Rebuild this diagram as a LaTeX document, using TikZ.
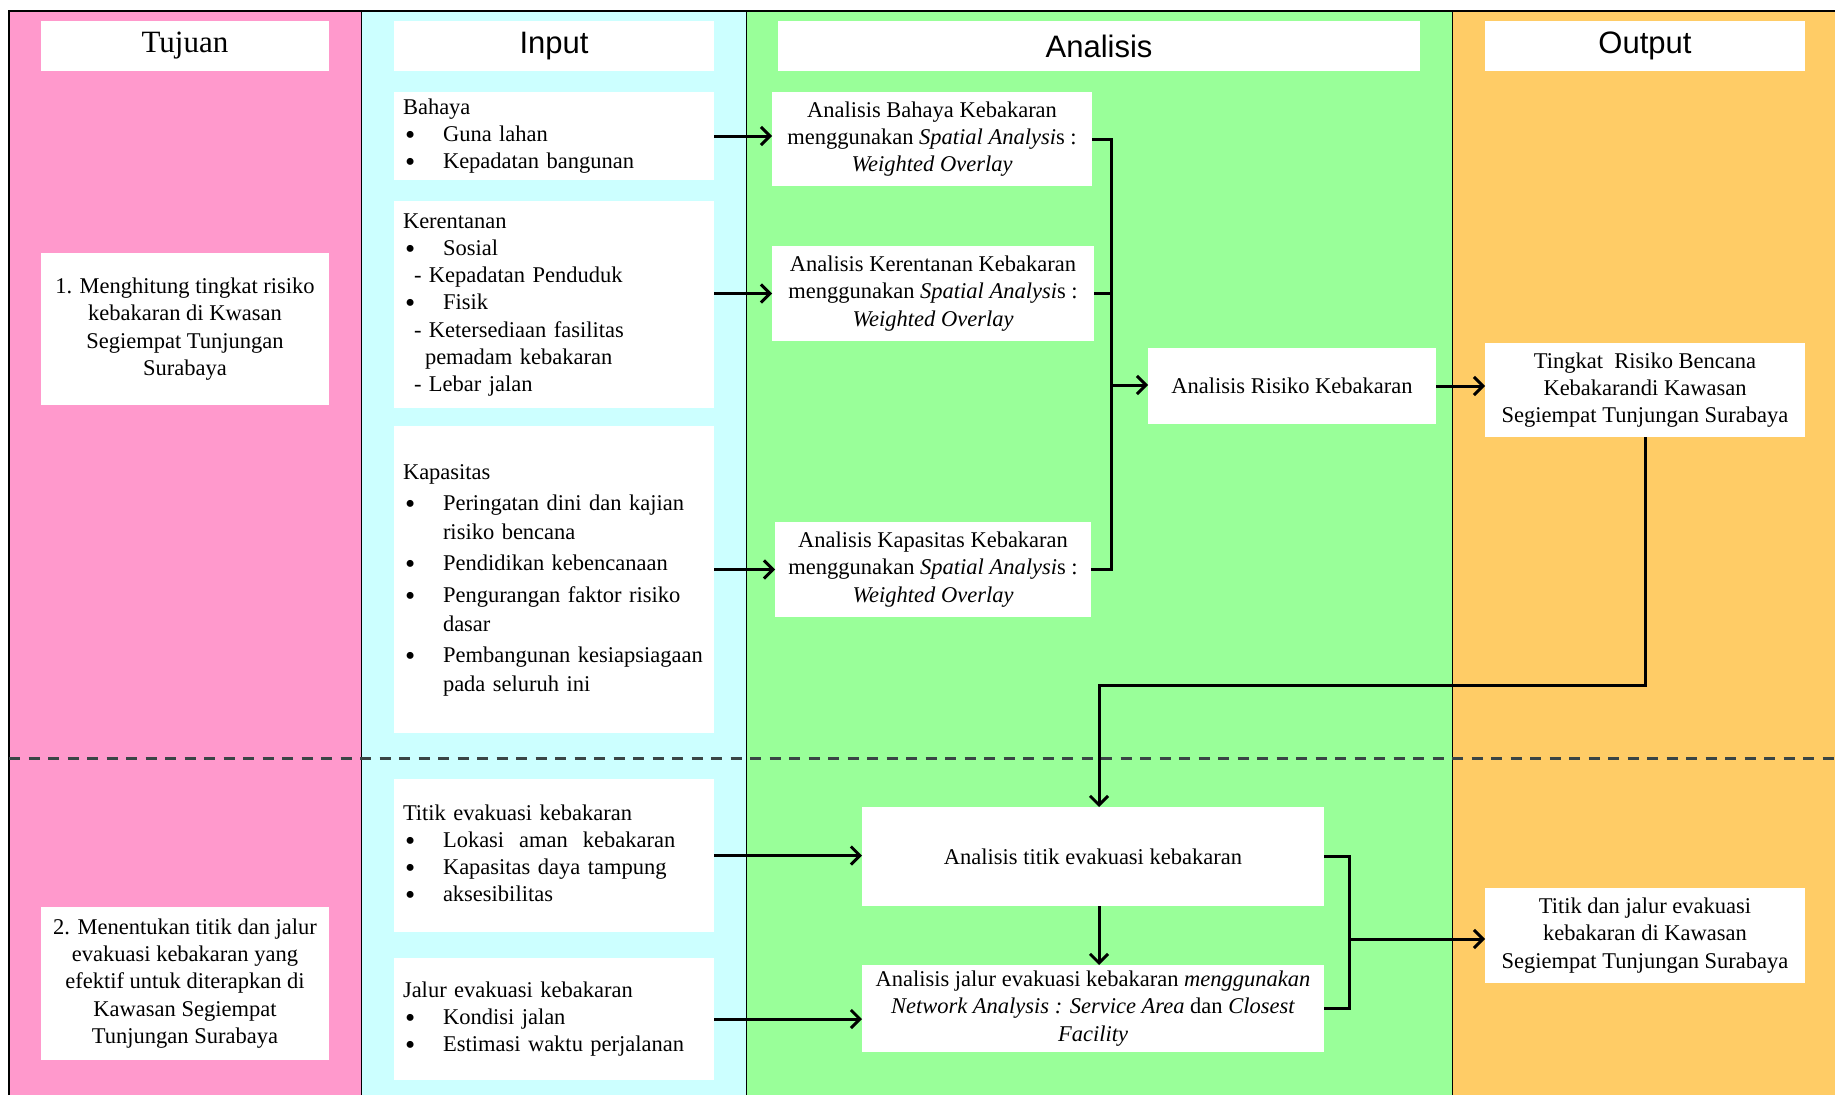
\documentclass[tikz,border=0pt]{standalone}
\usepackage{fontspec}
\setmainfont{Liberation Serif}
\newfontfamily\hdsans{Liberation Sans}
\usetikzlibrary{arrows.meta}
\definecolor{pinkc}{HTML}{FF99CC}
\definecolor{cyanc}{HTML}{CCFFFF}
\definecolor{greenc}{HTML}{99FF99}
\definecolor{orangec}{HTML}{FFCC66}
\definecolor{dashc}{HTML}{3A4545}
\newcommand\bodyfont{\fontsize{22.5}{27.3}\selectfont}
\newcommand\kapfont{\fontsize{22.5}{28.6}\selectfont}
\newcommand\hdserif{\fontsize{31}{36}\selectfont}
\newcommand\hdsansf{\hdsans\fontsize{31}{36}\selectfont}
\newcommand\bul[1]{\makebox[40pt][l]{\hspace*{2pt}\smash{\raisebox{-3pt}{\fontsize{29}{27}\selectfont\textbullet}}}#1}
\begin{document}
\begin{tikzpicture}[x=1pt,y=-1pt,
  box/.style={fill=white, inner sep=0pt, outer sep=0pt, font=\bodyfont},
  cbox/.style={box, align=center},
  lbox/.style={box, text width=302pt, align=left},
  hdr/.style={fill=white, inner sep=0pt, outer sep=0pt, minimum height=50pt},
  conn/.style={line width=3pt},
  arr/.style={conn, -{Straight Barb[length=9pt,width=18pt]}},
  sep/.style={line width=1.3pt},
  divider/.style={line width=2.7pt, dashc, dash pattern=on 11pt off 8.5pt}]
\useasboundingbox (0,0) rectangle (1835,1095);
\fill[white] (0,0) rectangle (1835,1095);
% columns
\fill[pinkc] (9,11) rectangle (361.6,1095);
\fill[cyanc] (361.6,11) rectangle (746.6,1095);
\fill[greenc] (746.6,11) rectangle (1452.3,1095);
\fill[orangec] (1452.3,11) rectangle (1835,1095);
\draw[sep, line width=1.8pt] (9,1095) -- (9,11) -- (1835,11);
\draw[sep] (361.6,11) -- (361.6,1095);
\draw[sep] (746.6,11) -- (746.6,1095);
\draw[sep] (1452.3,11) -- (1452.3,1095);
\draw[divider] (9,758.4) -- (1835,758.4);

% headers
\node[hdr, minimum width=288pt, font=\hdserif] (hTuj) at (185,46) {Tujuan};
\node[hdr, minimum width=320pt, font=\hdsansf] (hInp) at (554,46) {Input};
\node[hdr, minimum width=642pt, font=\hdsansf] (hAna) at (1099,46) {Analisis};
\node[hdr, minimum width=320pt, font=\hdsansf] (hOut) at (1645,46) {Output};

% tujuan
\node[cbox, minimum width=288pt, minimum height=152pt] (tuj1) at (185,329)
  {1. Menghitung tingkat risiko\\kebakaran di Kwasan\\Segiempat Tunjungan\\Surabaya};
\node[cbox, minimum width=288pt, minimum height=153pt] (tuj2) at (185,983.5)
  {2. Menentukan titik dan jalur\\evakuasi kebakaran yang\\efektif untuk diterapkan di\\Kawasan Segiempat\\Tunjungan Surabaya};

% input
\node[lbox, minimum width=320pt, minimum height=88pt] (inBah) at (554,136)
  {\begin{tabular}{@{}l@{}}Bahaya\\ \bul{Guna lahan}\\ \bul{Kepadatan bangunan}\end{tabular}};
\node[lbox, minimum width=320pt, minimum height=207pt] (inKer) at (554,304.5)
  {\begin{tabular}{@{}l@{}}Kerentanan\\ \bul{Sosial}\\ \hspace*{11pt}- Kepadatan Penduduk\\ \bul{Fisik}\\ \hspace*{11pt}- Ketersediaan fasilitas\\ \hspace*{22pt}pemadam kebakaran\\ \hspace*{11pt}- Lebar jalan\end{tabular}};
\node[lbox, minimum width=320pt, minimum height=307pt, font=\kapfont] (inKap) at (554,579.5)
  {\begin{tabular}{@{}l@{}}Kapasitas\\[3pt] \bul{Peringatan dini dan kajian}\\ \hspace*{40pt}risiko bencana\\[3pt] \bul{Pendidikan kebencanaan}\\[3pt] \bul{Pengurangan faktor risiko}\\ \hspace*{40pt}dasar\\[3pt] \bul{Pembangunan kesiapsiagaan}\\ \hspace*{40pt}pada seluruh ini\end{tabular}};
\node[lbox, minimum width=320pt, minimum height=153pt] (inTit) at (554,855.5)
  {\begin{tabular}{@{}l@{}}Titik evakuasi kebakaran\\ \bul{Lokasi\ \ aman\ \ kebakaran}\\ \bul{Kapasitas daya tampung}\\ \bul{aksesibilitas}\end{tabular}};
\node[lbox, minimum width=320pt, minimum height=122pt] (inJal) at (554,1019)
  {\begin{tabular}{@{}l@{}}Jalur evakuasi kebakaran\\ \bul{Kondisi jalan}\\ \bul{Estimasi waktu perjalanan}\end{tabular}};

% analisis
\node[cbox, minimum width=320pt, minimum height=94pt] (anBah) at (932,139)
  {Analisis Bahaya Kebakaran\\menggunakan \textit{Spatial Analysi}s :\\\textit{Weighted Overlay}};
\node[cbox, minimum width=322pt, minimum height=95pt] (anKer) at (933,293.5)
  {Analisis Kerentanan Kebakaran\\menggunakan \textit{Spatial Analysi}s :\\\textit{Weighted Overlay}};
\node[cbox, minimum width=316pt, minimum height=95pt] (anKap) at (933,569.5)
  {Analisis Kapasitas Kebakaran\\menggunakan \textit{Spatial Analysi}s :\\\textit{Weighted Overlay}};
\node[cbox, minimum width=288pt, minimum height=76pt] (anRis) at (1292,386)
  {Analisis Risiko Kebakaran};
\node[cbox, minimum width=462pt, minimum height=99pt] (anTit) at (1093,856.5)
  {Analisis titik evakuasi kebakaran};
\node[cbox, minimum width=462pt, minimum height=87pt] (anJal) at (1093,1008.5)
  {Analisis jalur evakuasi kebakaran \textit{menggunakan}\\\textit{Network Analysis : Service Area} dan \textit{Closest}\\\textit{Facility}};

% output
\node[cbox, minimum width=320pt, minimum height=94pt] (outT) at (1645,390)
  {Tingkat\ \ Risiko Bencana\\Kebakarandi Kawasan\\Segiempat Tunjungan Surabaya};
\node[cbox, minimum width=320pt, minimum height=95pt] (outE) at (1645,935.5)
  {Titik dan jalur evakuasi\\kebakaran di Kawasan\\Segiempat Tunjungan Surabaya};

% connectors
\draw[arr] (inBah.east) -- (inBah.east -| anBah.west);
\draw[arr] (anKer.west -| inKer.east) -- (anKer.west);
\draw[arr] (anKap.west -| inKap.east) -- (anKap.west);
\coordinate (busA) at (1111,385);
\draw[conn] (anBah.east) -- (anBah.east -| busA) -- (anKap.east -| busA) -- (anKap.east);
\draw[conn] (anKer.east) -- (anKer.east -| busA);
\draw[arr] (busA) -- (busA -| anRis.west);
\draw[arr] (anRis.east) -- (anRis.east -| outT.west);
\coordinate (turn) at (1099,685);
\draw[arr] (outT.south) |- (turn) -- (turn |- anTit.north);
\draw[arr] (inTit.east) -- (inTit.east -| anTit.west);
\draw[arr] (inJal.east) -- (inJal.east -| anJal.west);
\draw[arr] (turn |- anTit.south) -- (turn |- anJal.north);
\coordinate (busB) at (1349,939);
\draw[conn] (anTit.east) -- (anTit.east -| busB) -- (anJal.east -| busB) -- (anJal.east);
\draw[arr] (busB) -- (busB -| outE.west);
\end{tikzpicture}
\end{document}
